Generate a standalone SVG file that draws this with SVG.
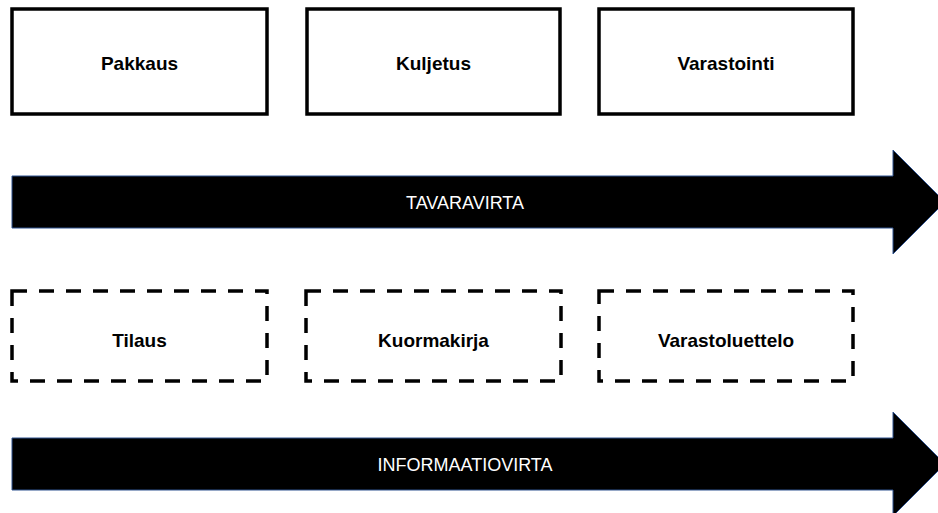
<svg xmlns="http://www.w3.org/2000/svg" width="938" height="513" viewBox="0 0 938 513">
  <style>
    .box { fill: #ffffff; stroke: #000000; stroke-width: 3.5; }
    .doc { fill: #ffffff; stroke: #000000; stroke-width: 3.5; stroke-dasharray: 15 12; }
    .lbl { font-family: "Liberation Sans", Arial, sans-serif; font-weight: bold; font-size: 19px; fill: #000000; text-anchor: middle; }
    .flow { fill: #000000; stroke: #2f528f; stroke-width: 1; }
    .flowlbl { font-family: "Liberation Sans", Arial, sans-serif; font-size: 18px; fill: #ffffff; text-anchor: middle; }
  </style>
  <rect width="938" height="513" fill="#ffffff"/>

  <!-- physical activities -->
  <g id="pakkaus">
    <rect class="box" x="12" y="9" width="255" height="105"/>
    <text class="lbl" x="139.5" y="70">Pakkaus</text>
  </g>
  <g id="kuljetus">
    <rect class="box" x="307" y="9" width="253" height="105"/>
    <text class="lbl" x="433.5" y="70">Kuljetus</text>
  </g>
  <g id="varastointi">
    <rect class="box" x="599" y="9" width="254" height="105"/>
    <text class="lbl" x="726" y="70">Varastointi</text>
  </g>

  <!-- documents -->
  <g id="tilaus">
    <rect class="doc" x="12" y="291" width="255" height="90"/>
    <text class="lbl" x="139.5" y="347">Tilaus</text>
  </g>
  <g id="kuormakirja">
    <rect class="doc" x="306" y="291" width="255" height="90"/>
    <text class="lbl" x="433.5" y="347">Kuormakirja</text>
  </g>
  <g id="varastoluettelo">
    <rect class="doc" x="599" y="291" width="254" height="90"/>
    <text class="lbl" x="726" y="347">Varastoluettelo</text>
  </g>

  <!-- flow arrows -->
  <g id="connectors">
    <g id="tavaravirta">
      <polygon class="flow" points="12,176 893,176 893,150 945,202 893,254 893,228 12,228"/>
      <text class="flowlbl" x="465" y="209">TAVARAVIRTA</text>
    </g>
    <g id="informaatiovirta">
      <polygon class="flow" points="12,438 893,438 893,412 945,464 893,516 893,490 12,490"/>
      <text class="flowlbl" x="465" y="471">INFORMAATIOVIRTA</text>
    </g>
  </g>
</svg>
